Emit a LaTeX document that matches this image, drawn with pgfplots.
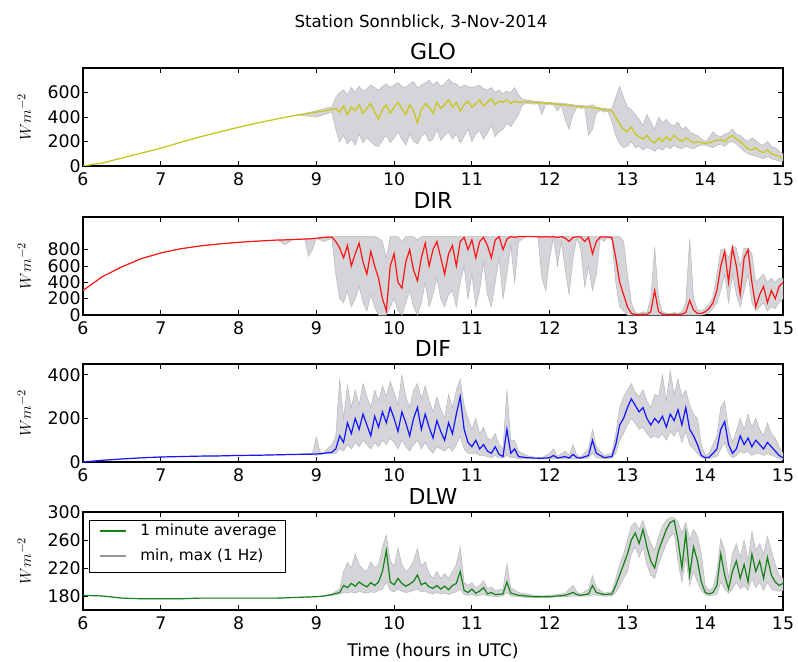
\documentclass[border=0pt]{standalone}
\usepackage{fontspec}
\setmainfont{DejaVu Sans}
\usepackage{pgfplots}
\usepackage{pgfplotstable}
\pgfplotsset{compat=1.18}

\definecolor{glocol}{RGB}{200,200,20}
\definecolor{dircol}{RGB}{255,20,20}
\definecolor{difcol}{RGB}{20,20,255}
\definecolor{dlwcol}{RGB}{20,130,20}
\definecolor{bandfill}{RGB}{212,212,217}
\definecolor{bandline}{RGB}{184,184,190}
\definecolor{keygray}{RGB}{150,150,150}

% columns: time, 1-min mean, 1 Hz min, 1 Hz max
\pgfplotstableread{
t m lo hi
6.00 0 0 0
6.25 25 25 25
6.50 65 65 65
6.75 105 105 105
7.00 145 145 145
7.25 192 192 192
7.50 237 237 237
7.75 277 277 277
8.00 316 316 316
8.25 352 352 352
8.50 385 385 385
8.75 415 415 415
9.00 440 400 450
9.10 450 420 470
9.20 460 440 480
9.25 470 300 560
9.30 440 200 600
9.35 490 250 620
9.40 420 180 580
9.45 480 220 640
9.50 450 170 600
9.55 500 260 650
9.60 430 190 610
9.65 470 230 630
9.70 510 200 660
9.75 440 170 640
9.80 380 160 620
9.85 460 210 650
9.90 500 250 670
9.95 430 190 640
10.00 480 230 660
10.05 520 280 680
10.10 470 220 650
10.15 420 170 640
10.20 500 260 670
10.25 450 200 690
10.30 350 180 640
10.35 460 240 660
10.40 510 270 680
10.45 480 200 700
10.50 430 220 660
10.55 520 300 690
10.60 470 210 650
10.65 500 250 670
10.70 540 280 710
10.75 480 220 680
10.80 520 260 670
10.85 450 190 640
10.90 500 240 660
10.95 530 300 650
11.00 480 200 640
11.05 510 260 650
11.10 540 290 660
11.15 490 220 630
11.20 520 270 620
11.25 550 330 640
11.30 500 240 600
11.35 530 280 620
11.40 520 300 590
11.45 540 350 610
11.50 510 320 600
11.55 530 370 640
11.60 520 420 580
11.65 522 500 545
11.70 525 510 540
11.80 520 505 530
11.85 518 510 525
11.90 515 420 525
11.95 513 505 520
12.00 510 500 520
12.05 508 500 515
12.10 505 450 515
12.15 503 495 510
12.20 500 380 510
12.25 495 300 505
12.30 490 420 500
12.35 488 480 495
12.40 485 470 495
12.45 482 475 490
12.50 480 250 490
12.55 475 300 500
12.60 470 430 480
12.65 465 455 475
12.70 460 440 470
12.75 455 445 465
12.80 450 360 470
12.85 400 250 560
12.90 340 180 650
12.95 300 150 560
13.00 280 160 480
13.05 320 200 460
13.10 260 150 420
13.15 240 160 380
13.20 220 130 330
13.25 250 150 420
13.30 210 140 360
13.35 190 120 300
13.40 230 150 400
13.45 200 130 350
13.50 240 160 380
13.55 210 140 340
13.60 250 170 330
13.65 220 150 360
13.70 200 140 300
13.75 230 160 320
13.80 210 150 280
13.85 190 140 260
13.90 200 160 250
13.95 190 170 220
14.00 185 170 200
14.05 190 160 230
14.10 200 150 280
14.15 210 170 250
14.20 215 180 240
14.25 200 160 260
14.30 230 190 270
14.35 250 200 300
14.40 220 180 260
14.45 200 150 250
14.50 170 120 220
14.55 140 100 200
14.60 130 90 230
14.65 150 80 210
14.70 120 70 180
14.75 110 60 170
14.80 130 80 200
14.85 100 60 160
14.90 90 50 150
14.95 80 40 120
15.00 60 40 100
}\glo

\pgfplotstableread{
t m lo hi
6.00 300 300 300
6.25 470 470 470
6.50 590 590 590
6.75 690 690 690
7.00 760 760 760
7.25 810 810 810
7.50 845 845 845
7.75 870 870 870
8.00 890 890 890
8.25 905 905 905
8.50 918 918 918
8.60 920 860 922
8.70 925 925 925
8.85 930 930 930
8.90 932 720 935
8.95 935 800 938
9.00 940 940 940
9.10 950 900 955
9.20 955 940 960
9.25 900 500 960
9.30 820 200 960
9.35 700 150 960
9.40 850 300 960
9.45 600 100 960
9.50 750 200 960
9.55 880 350 960
9.60 650 150 960
9.65 500 50 960
9.70 780 250 960
9.75 600 100 960
9.80 450 0 940
9.85 200 0 900
9.90 50 0 700
9.95 600 100 960
10.00 750 200 960
10.05 400 50 960
10.10 330 0 900
10.15 650 150 960
10.20 800 300 960
10.25 550 100 960
10.30 420 0 920
10.35 700 150 960
10.40 880 400 960
10.45 600 100 960
10.50 800 250 960
10.55 900 450 960
10.60 700 200 960
10.65 500 100 960
10.70 750 250 960
10.75 850 300 960
10.80 600 100 960
10.85 900 400 960
10.90 950 600 960
10.95 800 200 960
11.00 920 500 960
11.05 700 100 960
11.10 900 300 960
11.15 950 650 960
11.20 850 250 960
11.25 700 100 960
11.30 920 400 960
11.35 960 700 960
11.40 800 200 960
11.45 930 500 960
11.50 960 850 960
11.55 950 400 960
11.60 960 900 960
11.70 960 960 960
11.80 960 960 960
11.85 958 950 960
11.90 955 450 960
11.95 960 300 960
12.00 955 700 960
12.05 958 950 960
12.10 950 600 960
12.15 960 900 960
12.20 940 550 960
12.25 900 250 960
12.30 950 700 960
12.35 958 950 960
12.40 955 800 960
12.45 900 350 960
12.50 950 600 960
12.55 750 300 960
12.60 900 500 960
12.65 955 940 960
12.70 955 900 960
12.75 955 950 960
12.80 950 920 960
12.85 700 400 960
12.90 400 100 960
12.95 250 50 900
13.00 100 0 500
13.05 20 0 150
13.10 5 0 30
13.15 5 0 20
13.20 10 0 40
13.25 5 0 30
13.30 40 0 200
13.35 300 0 830
13.40 40 0 200
13.45 10 0 40
13.50 5 0 20
13.55 5 0 15
13.60 10 0 30
13.65 5 0 20
13.70 10 0 40
13.75 30 0 150
13.80 180 0 930
13.85 60 0 200
13.90 20 0 60
13.95 20 0 50
14.00 40 10 80
14.05 80 30 130
14.10 150 80 220
14.15 300 150 500
14.20 600 300 800
14.25 780 500 800
14.30 400 150 700
14.35 820 500 850
14.40 600 250 820
14.45 250 100 600
14.50 700 300 820
14.55 800 500 820
14.60 400 150 750
14.65 100 50 400
14.70 250 100 450
14.75 350 150 500
14.80 150 50 400
14.85 300 100 450
14.90 200 80 400
14.95 350 150 450
15.00 400 200 450
}\dir

\pgfplotstableread{
t m lo hi
6.00 0 0 0
6.25 8 8 8
6.50 14 14 14
6.75 19 19 19
7.00 23 23 23
7.25 25 25 25
7.50 27 27 27
7.75 28 28 28
8.00 30 30 30
8.25 31 31 31
8.50 33 33 33
8.75 35 35 35
8.95 36 36 40
9.00 37 30 115
9.05 38 35 42
9.10 40 38 45
9.20 45 40 80
9.25 60 40 120
9.30 120 60 380
9.35 90 50 200
9.40 180 80 350
9.45 130 60 250
9.50 200 90 330
9.55 150 70 260
9.60 220 100 360
9.65 170 80 300
9.70 120 60 250
9.75 210 90 330
9.80 160 70 280
9.85 230 100 350
9.90 180 80 300
9.95 250 110 370
10.00 200 90 320
10.05 140 60 260
10.10 230 100 400
10.15 180 70 300
10.20 120 50 250
10.25 200 80 330
10.30 250 100 360
10.35 150 60 290
10.40 220 90 350
10.45 160 60 280
10.50 110 40 230
10.55 190 70 300
10.60 140 60 240
10.65 100 50 200
10.70 180 70 310
10.75 130 50 250
10.80 220 80 330
10.85 300 120 380
10.90 150 60 260
10.95 90 40 200
11.00 70 40 150
11.05 100 40 200
11.10 60 30 130
11.15 80 30 160
11.20 50 25 110
11.25 40 20 100
11.30 70 30 130
11.35 35 20 80
11.40 25 18 60
11.45 150 30 330
11.50 40 20 100
11.55 60 20 100
11.60 25 15 50
11.70 20 15 30
11.80 18 15 22
11.90 17 14 20
12.00 20 15 40
12.05 30 15 60
12.10 18 15 25
12.20 25 15 50
12.25 18 14 30
12.30 35 15 80
12.35 20 15 30
12.40 18 15 25
12.50 30 18 60
12.55 100 40 150
12.60 40 20 70
12.70 20 15 30
12.80 25 18 40
12.85 80 40 130
12.90 170 100 250
12.95 200 130 300
13.00 250 170 330
13.05 290 200 360
13.10 260 180 320
13.15 230 150 300
13.20 250 160 330
13.25 200 130 280
13.30 170 110 250
13.35 200 120 310
13.40 180 110 300
13.45 210 130 400
13.50 160 100 280
13.55 220 140 420
13.60 190 120 310
13.65 240 150 380
13.70 170 90 300
13.75 250 140 330
13.80 150 80 260
13.85 120 60 220
13.90 80 40 200
13.95 30 20 80
14.00 20 15 30
14.05 22 15 40
14.10 40 20 80
14.15 60 25 120
14.20 150 60 250
14.25 185 90 280
14.30 80 40 150
14.35 40 20 90
14.40 60 30 140
14.45 120 50 200
14.50 80 40 150
14.55 110 50 220
14.60 70 30 160
14.65 100 40 200
14.70 80 40 150
14.75 60 30 120
14.80 90 40 180
14.85 70 30 130
14.90 50 25 110
14.95 30 15 70
15.00 20 10 40
}\dif

\pgfplotstableread{
t m lo hi
6.00 181 181 181
6.25 180 180 180
6.50 177 177 177
6.75 176 176 176
7.00 176 176 176
7.25 176 176 176
7.50 177 177 177
7.75 177 177 177
8.00 177 177 177
8.25 177 177 177
8.50 177 177 177
8.75 178 178 178
9.00 179 179 179
9.10 180 180 180
9.20 182 181 183
9.30 185 183 190
9.35 195 185 215
9.40 192 184 228
9.45 198 186 220
9.50 194 184 240
9.55 200 187 225
9.60 196 185 218
9.65 193 184 215
9.70 199 186 229
9.75 195 185 220
9.80 200 188 225
9.85 215 190 250
9.90 245 200 267
9.95 200 188 230
10.00 196 186 222
10.05 205 190 248
10.10 198 187 225
10.15 194 185 215
10.20 197 186 220
10.25 201 188 230
10.30 210 190 248
10.35 196 186 222
10.40 199 187 229
10.45 193 184 212
10.50 191 183 205
10.55 195 185 215
10.60 190 183 205
10.65 194 184 212
10.70 189 182 205
10.75 195 184 215
10.80 198 186 225
10.85 215 190 250
10.90 188 182 200
10.95 185 181 195
11.00 190 182 199
11.05 184 180 192
11.10 187 181 195
11.15 192 182 202
11.20 183 180 190
11.25 185 180 193
11.30 182 179 188
11.40 183 180 190
11.45 200 185 226
11.50 184 180 192
11.60 181 179 185
11.70 180 178 183
11.80 179 178 181
11.90 179 178 180
12.00 179 178 181
12.10 180 179 182
12.20 181 179 184
12.30 185 180 195
12.35 182 180 186
12.40 181 180 183
12.50 183 180 190
12.55 195 182 209
12.60 185 181 192
12.70 182 180 184
12.80 183 180 186
12.85 195 185 205
12.90 210 195 225
12.95 225 205 240
13.00 240 215 260
13.05 260 240 280
13.10 270 250 285
13.15 255 235 275
13.20 275 250 288
13.25 250 225 270
13.30 230 210 255
13.35 220 205 245
13.40 245 225 265
13.45 260 240 280
13.50 275 255 288
13.55 285 265 292
13.60 288 270 292
13.65 260 230 285
13.70 220 200 270
13.75 270 235 285
13.80 210 195 260
13.85 250 215 275
13.90 230 200 265
13.95 200 188 240
14.00 185 182 195
14.05 183 180 188
14.10 185 181 192
14.15 195 183 215
14.20 240 200 262
14.25 210 190 245
14.30 190 184 205
14.35 215 190 240
14.40 230 200 255
14.45 205 190 235
14.50 225 195 260
14.55 200 188 230
14.60 240 205 272
14.65 215 192 245
14.70 230 200 255
14.75 205 188 240
14.80 235 200 265
14.85 210 190 245
14.90 200 188 225
14.95 195 187 210
15.00 198 188 205
}\dlw

\pgfplotsset{
  panel/.style={
    scale only axis, width=525pt, height=73.5pt, anchor=south west,
    xmin=6, xmax=15, xtick={6,7,...,15},
    xtick pos=both, ytick pos=both, tick align=inside,
    major tick length=4pt,
    every tick/.style={black, line width=0.6pt},
    axis line style={black, line width=0.9pt},
    ticklabel style={font=\fontsize{13}{15}\selectfont},
    yticklabel style={inner xsep=1.5pt, inner ysep=0pt},
    xticklabel style={inner ysep=1pt, yshift=-4pt},
    /pgf/number format/assume math mode=true,
    scaled y ticks=false,
    ylabel={$Wm^{-2}$},
    every axis y label/.style={at={(axis description cs:0,0.5)}, xshift=-44pt,
      rotate=90, anchor=center, font=\fontsize{13}{15}\selectfont},
    every axis title/.style={at={(0.5,1)}, anchor=base, yshift=6pt,
      font=\fontsize{16.5}{19}\selectfont},
  },
}

% grey band between the 1 Hz minimum and maximum
\newcommand{\band}[1]{%
  \addplot[draw=none, stack plots=y, forget plot] table[x=t,y=lo]{#1};
  \addplot[draw=bandline, line width=0.4pt, fill=bandfill, stack plots=y, forget plot]
    table[x=t, y expr=\thisrow{hi}-\thisrow{lo}]{#1} \closedcycle;
}

\begin{document}
\begin{tikzpicture}
\useasboundingbox (0,0) rectangle (598.5pt,495.75pt);
\node[font=\fontsize{12.5}{15}\selectfont] at (315.75pt,479.25pt) {Station Sonnblick, 3-Nov-2014};

\begin{axis}[panel, at={(62.25pt,371.25pt)}, title={GLO},
  ymin=0, ymax=800, ytick={0,200,400,600}]
\band{\glo}
\addplot[glocol, line width=0.9pt, stack plots=false, forget plot] table[x=t,y=m]{\glo};
\end{axis}

\begin{axis}[panel, at={(62.25pt,259.5pt)}, title={DIR},
  ymin=0, ymax=1200, ytick={0,200,400,600,800}]
\band{\dir}
\addplot[dircol, line width=0.9pt, stack plots=false, forget plot] table[x=t,y=m]{\dir};
\end{axis}

\begin{axis}[panel, at={(62.25pt,149.25pt)}, title={DIF},
  ymin=0, ymax=450, ytick={0,200,400}]
\band{\dif}
\addplot[difcol, line width=0.9pt, stack plots=false, forget plot] table[x=t,y=m]{\dif};
\end{axis}

\begin{axis}[panel, at={(62.25pt,38.25pt)}, title={DLW},
  ymin=160, ymax=300, ytick={180,220,260,300},
  xlabel={Time (hours in UTC)},
  every axis x label/.style={at={(axis description cs:0.5,0)}, yshift=-31pt,
    anchor=center, font=\fontsize{13}{15}\selectfont}]
\band{\dlw}
\addplot[dlwcol, line width=0.9pt, stack plots=false, forget plot] table[x=t,y=m]{\dlw};
% legend box
\draw[black, line width=0.6pt, fill=white]
  (axis description cs:0.0086,0.918) rectangle (axis description cs:0.2886,0.388);
\draw[dlwcol, line width=0.8pt]
  (axis description cs:0.0243,0.806) -- (axis description cs:0.0614,0.806);
\draw[keygray, line width=0.8pt]
  (axis description cs:0.0243,0.551) -- (axis description cs:0.0614,0.551);
\node[anchor=west, inner sep=0pt, font=\fontsize{11.5}{14}\selectfont]
  at (axis description cs:0.0814,0.806) {1 minute average};
\node[anchor=west, inner sep=0pt, font=\fontsize{11.5}{14}\selectfont]
  at (axis description cs:0.0814,0.551) {min, max (1 Hz)};
\end{axis}
\end{tikzpicture}
\end{document}
